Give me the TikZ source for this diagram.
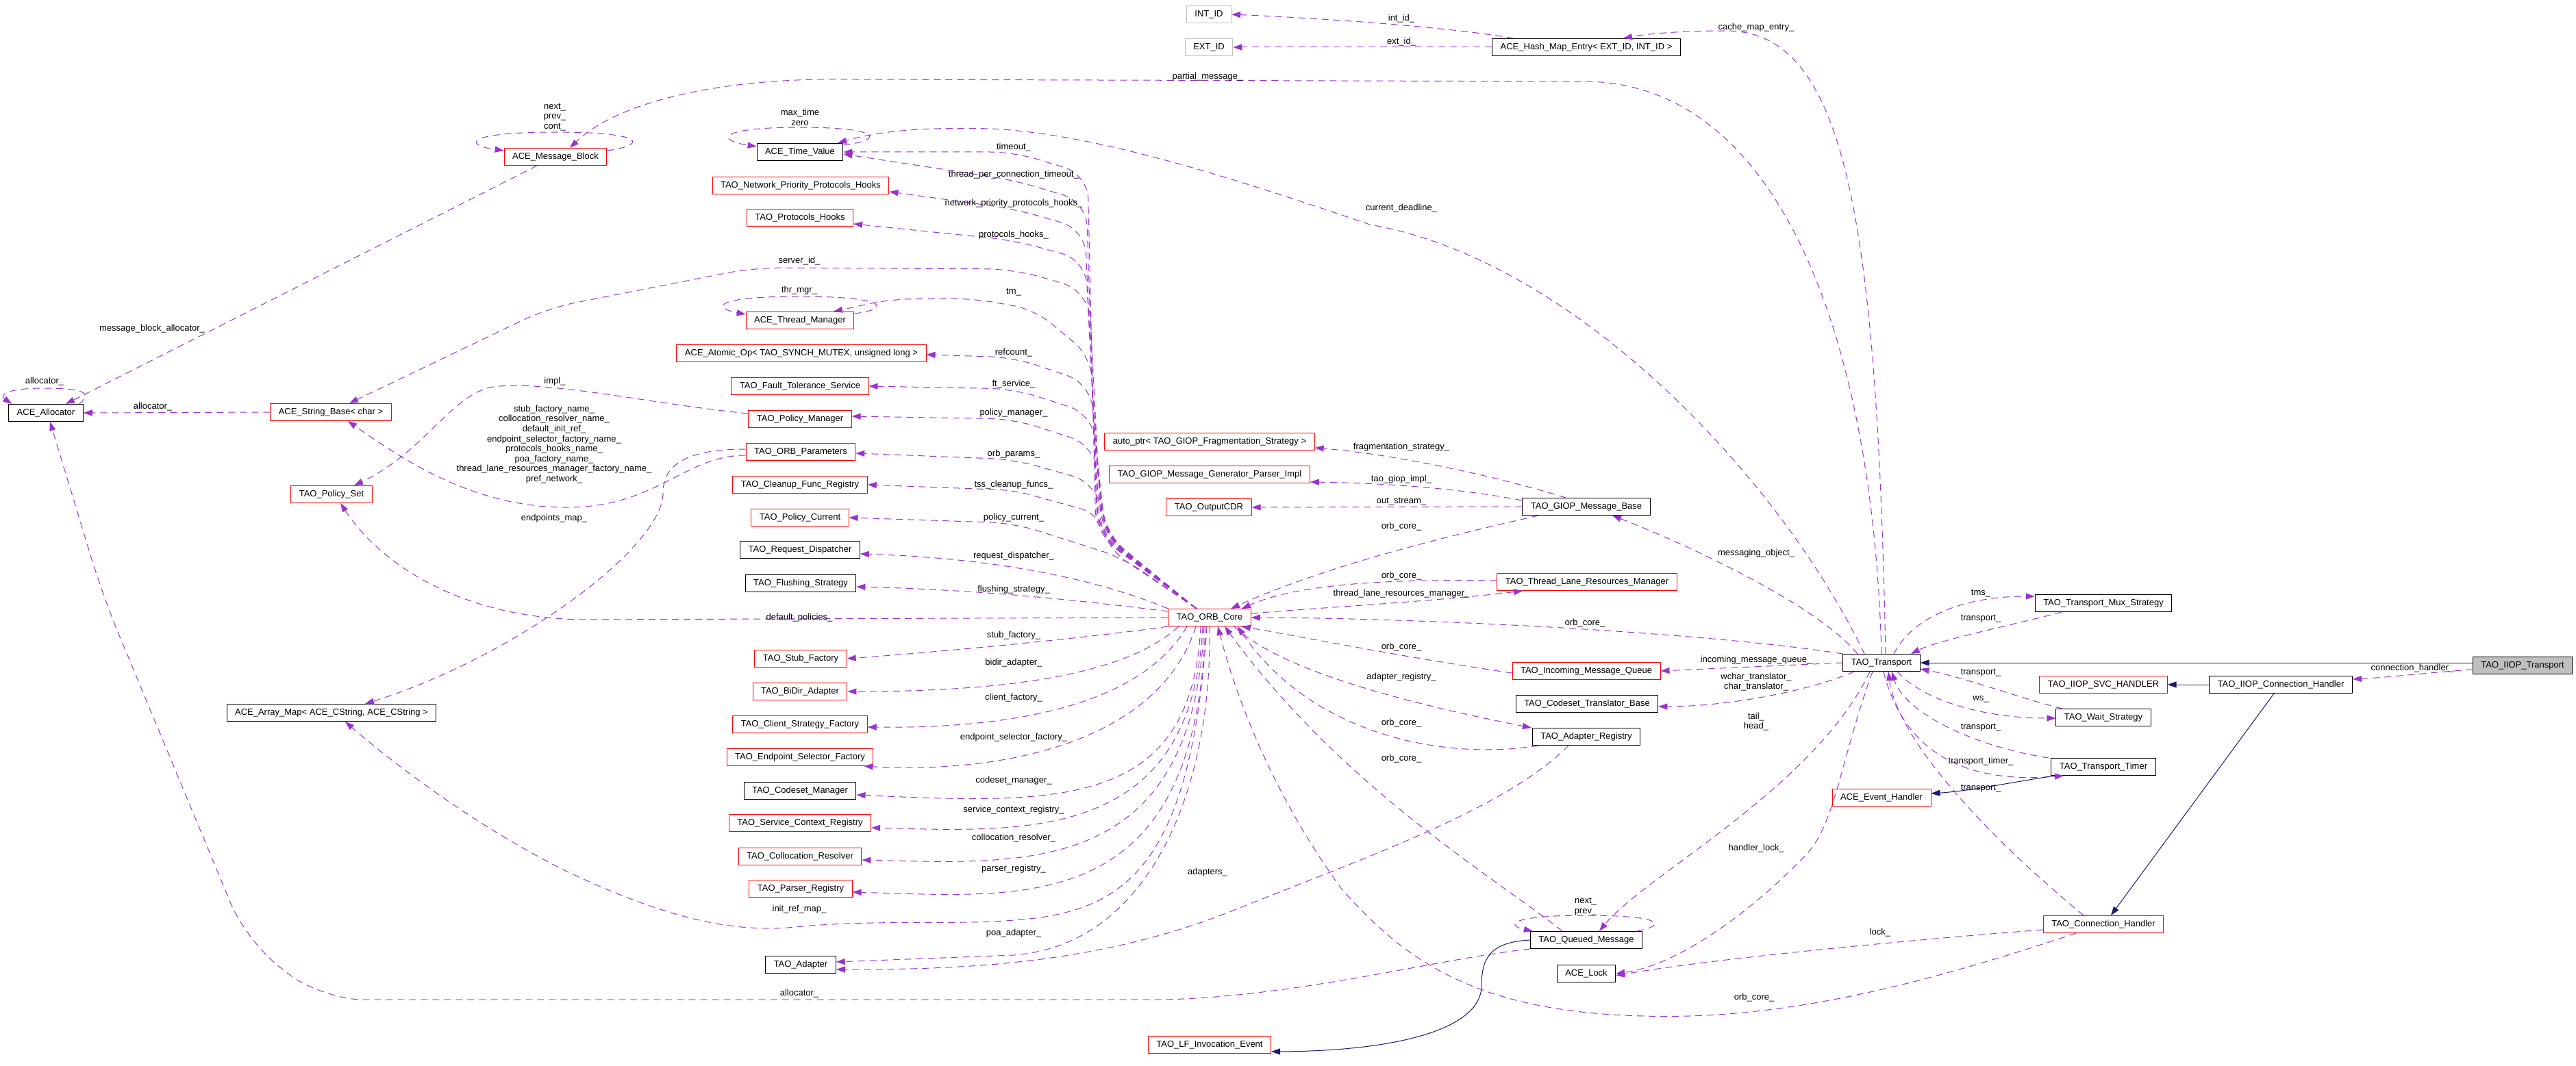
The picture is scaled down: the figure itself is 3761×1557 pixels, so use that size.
\documentclass[tikz,border=0pt]{standalone}
\usepackage{fontspec}
\setmainfont{Liberation Sans}
\usetikzlibrary{arrows.meta}
\definecolor{edgec}{HTML}{9A32CD}
\definecolor{inhc}{HTML}{191970}
\definecolor{greyb}{HTML}{BFBFBF}
\newcommand\dxfont{\fontsize{13}{14.6}\selectfont}
\tikzset{
  box/.style={draw, line width=1pt, font=\dxfont, inner xsep=12pt, inner ysep=0pt, minimum height=25pt, text height=9.4pt, text depth=2.6pt},
  rbox/.style={box, draw=red},
  kbox/.style={box, draw=black},
  gbox/.style={box, draw=greyb},
  selbox/.style={box, draw=black, fill=greyb},
  mem/.style={draw=edgec, line width=1pt, dash pattern=on 10pt off 7pt, -{Triangle[length=13pt,width=9pt]}},
  inh/.style={draw=inhc, line width=1pt, -{Triangle[length=13pt,width=9pt]}},
  lab/.style={font=\dxfont, inner sep=0pt, align=center},
}
\begin{document}
\begin{tikzpicture}[x=1pt,y=-1pt]
\fill[white] (0,0) rectangle (3761,1557);
\useasboundingbox (0,0) rectangle (3761,1557);

% ---------- nodes ----------
\node[kbox] (aal) at (67,603) {ACE\_Allocator};
\node[rbox] (amb) at (811,229) {ACE\_Message\_Block};
\node[rbox] (asb) at (483,602) {ACE\_String\_Base< char >};
\node[rbox] (tps) at (484,722) {TAO\_Policy\_Set};
\node[kbox] (aam) at (484,1041) {ACE\_Array\_Map< ACE\_CString, ACE\_CString >};

\node[kbox] (tv) at (1168,222) {ACE\_Time\_Value};
\node[rbox] (npph) at (1169,271) {TAO\_Network\_Priority\_Protocols\_Hooks};
\node[rbox] (ph) at (1168,318) {TAO\_Protocols\_Hooks};
\node[rbox] (atm) at (1168,468) {ACE\_Thread\_Manager};
\node[rbox] (aao) at (1170,516) {ACE\_Atomic\_Op< TAO\_SYNCH\_MUTEX, unsigned long >};
\node[rbox] (fts) at (1168,564) {TAO\_Fault\_Tolerance\_Service};
\node[rbox] (pm) at (1168,612) {TAO\_Policy\_Manager};
\node[rbox] (orbp) at (1169,660) {TAO\_ORB\_Parameters};
\node[rbox] (cfr) at (1168,708) {TAO\_Cleanup\_Func\_Registry};
\node[rbox] (pc) at (1168,756) {TAO\_Policy\_Current};
\node[kbox] (rd) at (1168,803) {TAO\_Request\_Dispatcher};
\node[kbox] (fs) at (1169,852) {TAO\_Flushing\_Strategy};
\node[rbox] (sf) at (1169,962) {TAO\_Stub\_Factory};
\node[rbox] (ba) at (1168,1010) {TAO\_BiDir\_Adapter};
\node[rbox] (csf) at (1168,1058) {TAO\_Client\_Strategy\_Factory};
\node[rbox] (esf) at (1168,1106) {TAO\_Endpoint\_Selector\_Factory};
\node[kbox] (cm) at (1168,1155) {TAO\_Codeset\_Manager};
\node[rbox] (scr) at (1168,1202) {TAO\_Service\_Context\_Registry};
\node[rbox] (cr) at (1168,1251) {TAO\_Collocation\_Resolver};
\node[rbox] (pr) at (1169,1298) {TAO\_Parser\_Registry};
\node[kbox] (ad) at (1169,1409) {TAO\_Adapter};

\node[gbox] (intid) at (1765,21) {INT\_ID};
\node[gbox] (extid) at (1765,69) {EXT\_ID};
\node[rbox] (apt) at (1766,645) {auto\_ptr< TAO\_GIOP\_Fragmentation\_Strategy >};
\node[rbox] (gmg) at (1766,693) {TAO\_GIOP\_Message\_Generator\_Parser\_Impl};
\node[rbox] (ocdr) at (1765,741) {TAO\_OutputCDR};
\node[rbox] (orb) at (1766,902) {TAO\_ORB\_Core};
\node[rbox] (lfie) at (1766,1526) {TAO\_LF\_Invocation\_Event};

\node[kbox] (hme) at (2316,69) {ACE\_Hash\_Map\_Entry< EXT\_ID, INT\_ID >};
\node[kbox] (gmb) at (2316,740) {TAO\_GIOP\_Message\_Base};
\node[rbox] (tlrm) at (2317,850) {TAO\_Thread\_Lane\_Resources\_Manager};
\node[rbox] (imq) at (2316,980) {TAO\_Incoming\_Message\_Queue};
\node[kbox] (ctb) at (2317,1028) {TAO\_Codeset\_Translator\_Base};
\node[kbox] (areg) at (2316,1076) {TAO\_Adapter\_Registry};
\node[kbox] (qm) at (2316,1373) {TAO\_Queued\_Message};
\node[kbox] (alock) at (2316,1422) {ACE\_Lock};

\node[kbox] (tr) at (2747,968) {TAO\_Transport};
\node[rbox] (aeh) at (2747,1165) {ACE\_Event\_Handler};

\node[kbox] (tms) at (3071,881) {TAO\_Transport\_Mux\_Strategy};
\node[rbox] (svc) at (3071,1000) {TAO\_IIOP\_SVC\_HANDLER};
\node[kbox] (ws) at (3071,1048) {TAO\_Wait\_Strategy};
\node[kbox] (tt) at (3071,1120) {TAO\_Transport\_Timer};
\node[rbox] (ch) at (3071,1350) {TAO\_Connection\_Handler};
\node[kbox] (iiopch) at (3330,1000) {TAO\_IIOP\_Connection\_Handler};
\node[selbox] (iiopt) at (3683,972) {TAO\_IIOP\_Transport};

% ---------- self loops ----------
\draw[mem] ([xshift=-6pt]aal.north east) .. controls (135,575) and (125,567) .. (65,567) .. controls (5,567) and (0,578) .. ([xshift=5pt]aal.north west);
\draw[mem] ([yshift=-4pt]amb.north east) .. controls (945,212) and (945,193) .. (811,193) .. controls (677,193) and (677,212) .. ([yshift=-4pt]amb.north west);
\draw[mem] ([yshift=-3pt]tv.north east) .. controls (1290,205) and (1290,186) .. (1168,186) .. controls (1046,186) and (1046,205) .. ([yshift=-5pt]tv.north west);
\draw[mem] ([yshift=-3pt]atm.north east) .. controls (1300,452) and (1300,433) .. (1168,433) .. controls (1040,433) and (1040,450) .. ([yshift=-4pt]atm.north west);
\draw[mem] ([xshift=-8pt]qm.north east) .. controls (2440,1350) and (2420,1337) .. (2316,1337) .. controls (2200,1337) and (2200,1352) .. ([xshift=4pt]qm.north west);

% ---------- left area ----------
\draw[mem] (asb.west) -- (aal.east);
\draw[mem] ([xshift=-27pt]amb.south) -- ([xshift=29pt]aal.north);
\draw[mem] ([yshift=8pt]pm.west) .. controls (950,590) and (800,555) .. (720,565) .. controls (660,575) and (620,660) .. ([xshift=33pt]tps.north);
\draw[mem] ([yshift=-5pt]orbp.west) .. controls (1000,665) and (960,740) .. (830,741) .. controls (700,742) and (600,680) .. ([xshift=25pt]asb.south);
\draw[mem] ([yshift=4pt]orbp.west) .. controls (1000,656) and (968,680) .. (968,720) .. controls (968,800) and (750,960) .. ([xshift=49pt]aam.north);
\draw[mem] (orb.west) -- (850,905) .. controls (680,902) and (560,830) .. ([xshift=13pt]tps.south);

% ---------- ORB core upper bundle ----------
\draw[mem, rounded corners=35pt] ([xshift=-19pt]orb.north) -- (1600,780) -- (1588,255) -- (1480,222) -- (tv.east);
\draw[mem, rounded corners=35pt] ([xshift=-19pt]orb.north) -- (1602,780) -- (1586,295) -- (1480,263) -- ([yshift=-3pt]tv.east);
\draw[mem, rounded corners=35pt] ([xshift=-19pt]orb.north) -- (1604,780) -- (1584,335) -- (1480,305) -- ([yshift=-9pt]npph.east);
\draw[mem, rounded corners=35pt] ([xshift=-19pt]orb.north) -- (1606,780) -- (1585,380) -- (1480,351) -- ([yshift=-9pt]ph.east);
\draw[mem, rounded corners=40pt] ([xshift=-19pt]orb.north) -- (1608,780) -- (1590,425) -- (1480,393) -- (1100,391) -- (800,450) -- ([xshift=27pt]asb.north);
\draw[mem, rounded corners=30pt] ([xshift=-19pt]orb.north) -- (1610,780) -- (1592,520) -- (1510,452) -- (1420,436) -- (1300,437) -- ([xshift=49pt]atm.north);
\draw[mem, rounded corners=35pt] ([xshift=-19pt]orb.north) -- (1612,780) -- (1592,560) -- (1480,522) -- ([yshift=-2pt]aao.east);
\draw[mem, rounded corners=35pt] ([xshift=-19pt]orb.north) -- (1614,780) -- (1595,605) -- (1480,568) -- (fts.east);
\draw[mem, rounded corners=35pt] ([xshift=-19pt]orb.north) -- (1616,785) -- (1597,650) -- (1480,612) -- ([yshift=4pt]pm.east);
\draw[mem, rounded corners=35pt] ([xshift=-19pt]orb.north) -- (1618,790) -- (1600,705) -- (1480,671) -- ([yshift=-2pt]orbp.east);
\draw[mem, rounded corners=25pt] ([xshift=-19pt]orb.north) -- (1622,805) -- (1603,750) -- (1480,716) -- (cfr.east);
\draw[mem, rounded corners=35pt] ([xshift=-19pt]orb.north) -- (1640,815) -- (1480,764) -- (pc.east);
\draw[mem] (orb.north west) .. controls (1600,845) and (1450,815) .. ([yshift=-6pt]rd.east);
\draw[mem] ([yshift=-4pt]orb.north west) .. controls (1600,880) and (1450,862) .. ([yshift=-5pt]fs.east);

% ---------- ORB core lower bundle ----------
\draw[mem] (orb.south west) .. controls (1600,930) and (1400,950) .. (sf.east);
\draw[mem] ([xshift=-45pt]orb.south) .. controls (1640,990) and (1450,1010) .. (ba.east);
\draw[mem] ([xshift=-33pt]orb.south) .. controls (1660,1040) and (1450,1064) .. ([yshift=-4pt]csf.east);
\draw[mem] ([xshift=-20pt]orb.south) .. controls (1690,1090) and (1450,1130) .. ([xshift=-14pt]esf.south east);
\draw[mem] ([xshift=-13pt]orb.south) .. controls (1740,1180) and (1550,1175) .. ([yshift=-6pt]cm.east);
\draw[mem] ([xshift=-10pt]orb.south) .. controls (1740,1230) and (1500,1215) .. ([yshift=-7pt]scr.east);
\draw[mem] ([xshift=-8pt]orb.south) .. controls (1740,1280) and (1500,1262) .. ([yshift=-5pt]cr.east);
\draw[mem] ([xshift=-6pt]orb.south) .. controls (1745,1340) and (1500,1310) .. ([yshift=-5pt]pr.east);
\draw[mem] ([xshift=-4pt]orb.south) .. controls (1740,1250) and (1650,1320) .. (1520,1340) .. controls (1400,1355) and (1300,1340) .. (1150,1355) .. controls (1050,1362) and (950,1330) .. (830,1274) .. controls (700,1210) and (580,1120) .. ([xshift=20pt]aam.south);
\draw[mem] (orb.south) .. controls (1770,1150) and (1680,1380) .. (1480,1395) -- ([yshift=4pt]ad.east);

% ---------- ORB core right side ----------
\draw[mem] ([xshift=-30pt]gmb.north) .. controls (2200,700) and (2050,665) .. ([yshift=-9pt]apt.east);
\draw[mem] ([yshift=9pt]gmb.west) .. controls (2150,717) and (2050,706) .. ([yshift=-11pt]gmg.east);
\draw[mem] (gmb.west) -- (ocdr.east);
\draw[mem] ([xshift=-70pt]gmb.south) .. controls (2150,775) and (1950,820) .. ([xshift=31pt]orb.north);
\draw[mem] ([yshift=2pt]tlrm.west) .. controls (2050,846) and (1900,850) .. ([xshift=47pt]orb.north);
\draw[mem] ([yshift=6pt]orb.east) .. controls (1920,888) and (2100,878) .. ([xshift=-94pt]tlrm.south);
\draw[mem] (tr.north west) .. controls (2500,925) and (2100,903) .. (orb.east);
\draw[mem] ([yshift=-3pt]imq.west) .. controls (2050,960) and (1900,930) .. ([xshift=-14pt]orb.south east);
\draw[mem] ([xshift=-25pt]orb.south east) .. controls (1880,990) and (2120,1040) .. ([xshift=-80pt]areg.north);
\draw[mem] ([xshift=-70pt]areg.south) .. controls (2120,1110) and (1920,1080) .. ([xshift=-20pt]orb.south east);
\draw[mem] ([xshift=-26pt]areg.south) .. controls (2200,1180) and (2000,1250) .. (1800,1330) .. controls (1600,1410) and (1400,1416) .. ([yshift=-7pt]ad.east);
\draw[mem] ([xshift=-35pt]qm.north) .. controls (2180,1280) and (1960,1150) .. ([xshift=22pt]orb.south);
\draw[mem] (qm.south west) .. controls (2100,1400) and (1900,1455) .. (1700,1460) [rounded corners=60pt] -- (470,1460) -- (360,1375) -- (150,870) -- ([xshift=6pt]aal.south);
\draw[mem] ([xshift=-40pt]ch.south) .. controls (2800,1440) and (2600,1490) .. (2400,1484) .. controls (2150,1478) and (2050,1400) .. (1960,1300) .. controls (1850,1150) and (1800,1000) .. ([xshift=12pt]orb.south);
\draw[inh] (qm.west) .. controls (2175,1376) and (2163,1400) .. (2163,1440) .. controls (2163,1500) and (2050,1535) .. ([yshift=-10pt]lfie.east);

% ---------- Transport ----------
\draw[mem] (tr.north) .. controls (2735,500) and (2600,119) .. (2312,119) -- (1250,116) .. controls (1050,112) and (900,150) .. ([xshift=21pt]amb.north);
\draw[mem] ([xshift=6pt]tr.north) .. controls (2740,300) and (2690,45) .. (2520,45) .. controls (2450,45) and (2400,50) .. ([xshift=54pt]hme.north);
\draw[mem] ([xshift=-25pt]tr.north) .. controls (2600,700) and (2300,380) .. (2000,328) .. controls (1800,260) and (1600,195) .. (1446,188) .. controls (1350,185) and (1280,192) .. ([xshift=55pt]tv.north);
\draw[mem] ([xshift=-35pt]tr.north) .. controls (2650,880) and (2450,790) .. ([xshift=38pt]gmb.south);
\draw[mem] (tr.west) -- (imq.east);
\draw[mem] ([xshift=-40pt]tr.south) .. controls (2640,1010) and (2520,1032) .. ([yshift=-4pt]ctb.east);
\draw[mem] ([xshift=-17pt]tr.south) .. controls (2650,1150) and (2400,1280) .. ([xshift=19pt]qm.north);
\draw[mem] ([xshift=-13pt]tr.south) .. controls (2690,1100) and (2680,1200) .. (2640,1245) .. controls (2560,1330) and (2450,1410) .. (alock.east);
\draw[mem] ([yshift=-8pt]ch.west) .. controls (2800,1372) and (2500,1400) .. ([yshift=-3pt]alock.east);
\draw[mem] ([xshift=18pt]tr.north) .. controls (2790,905) and (2860,871) .. ([yshift=10pt]tms.west);
\draw[mem] ([xshift=-61pt]tms.south) .. controls (2930,915) and (2830,935) .. ([xshift=43pt]tr.north);
\draw[mem] ([xshift=23pt]tr.south) .. controls (2810,1025) and (2900,1049) .. ([yshift=-1pt]ws.west);
\draw[mem] ([xshift=-60pt]ws.north) .. controls (2950,1020) and (2870,990) .. ([yshift=-9pt]tr.east);
\draw[mem] ([xshift=-80pt]tt.north) .. controls (2880,1090) and (2780,1040) .. ([xshift=15pt]tr.south);
\draw[mem] ([xshift=3pt]tr.south) .. controls (2780,1100) and (2870,1145) .. ([xshift=-58pt]tt.south);
\draw[mem] ([xshift=-29pt]ch.north) .. controls (2900,1220) and (2770,1080) .. ([xshift=10pt]tr.south);
\draw[inh] ([xshift=-70pt]tt.south) .. controls (2950,1140) and (2880,1155) .. ([yshift=6pt]aeh.east);

% ---------- IIOP ----------
\draw[inh] ([yshift=4pt]iiopt.west) -- (tr.east);
\draw[mem] ([yshift=-6pt]iiopt.west) .. controls (3550,982) and (3480,990) .. ([yshift=8pt]iiopch.east);
\draw[inh] (iiopch.west) -- (svc.east);
\draw[inh] ([xshift=-10pt]iiopch.south) -- ([xshift=11pt]ch.north);

% ---------- Hash map ----------
\draw[mem] ([xshift=-106pt]hme.north) .. controls (2150,45) and (2000,30) .. (intid.east);
\draw[mem] (hme.west) -- (extid.east);

% ---------- labels ----------
\node[lab] (l01) at (810,171) {next\_\\prev\_\\cont\_};
\node[lab] (l02) at (222,480) {message\_block\_allocator\_};
\node[lab] (l03) at (65,557) {allocator\_};
\node[lab] (l04) at (223,594) {allocator\_};
\node[lab] (l05) at (810,557) {impl\_};
\node[lab] (l06) at (809,649) {stub\_factory\_name\_\\collocation\_resolver\_name\_\\default\_init\_ref\_\\endpoint\_selector\_factory\_name\_\\protocols\_hooks\_name\_\\poa\_factory\_name\_\\thread\_lane\_resources\_manager\_factory\_name\_\\pref\_network\_};
\node[lab] (l07) at (809,757) {endpoints\_map\_};
\node[lab] (l08) at (1168,171.5) {max\_time\\zero};
\node[lab] (l09) at (1167,381) {server\_id\_};
\node[lab] (l10) at (1167,424) {thr\_mgr\_};
\node[lab] (l11) at (1167,902) {default\_policies\_};
\node[lab] (l12) at (1167,1328) {init\_ref\_map\_};
\node[lab] (l13) at (1167,1451) {allocator\_};

\node[lab] (l20) at (1480,215) {timeout\_};
\node[lab] (l21) at (1480,255) {thread\_per\_connection\_timeout\_};
\node[lab] (l22) at (1480,297) {network\_priority\_protocols\_hooks\_};
\node[lab] (l23) at (1480,343) {protocols\_hooks\_};
\node[lab] (l24) at (1480,427) {tm\_};
\node[lab] (l25) at (1480,515) {refcount\_};
\node[lab] (l26) at (1480,561) {ft\_service\_};
\node[lab] (l27) at (1480,603) {policy\_manager\_};
\node[lab] (l28) at (1480,663) {orb\_params\_};
\node[lab] (l29) at (1480,708) {tss\_cleanup\_funcs\_};
\node[lab] (l30) at (1480,756) {policy\_current\_};
\node[lab] (l31) at (1480,812) {request\_dispatcher\_};
\node[lab] (l32) at (1480,861) {flushing\_strategy\_};
\node[lab] (l33) at (1480,928) {stub\_factory\_};
\node[lab] (l34) at (1480,968) {bidir\_adapter\_};
\node[lab] (l35) at (1480,1019) {client\_factory\_};
\node[lab] (l36) at (1480,1077) {endpoint\_selector\_factory\_};
\node[lab] (l37) at (1480,1140) {codeset\_manager\_};
\node[lab] (l38) at (1480,1183) {service\_context\_registry\_};
\node[lab] (l39) at (1480,1224) {collocation\_resolver\_};
\node[lab] (l40) at (1480,1269) {parser\_registry\_};
\node[lab] (l41) at (1480,1363) {poa\_adapter\_};

\node[lab] (l50) at (1763,112) {partial\_message\_};
\node[lab] (l51) at (1763,1274) {adapters\_};
\node[lab] (l52) at (2046,27) {int\_id\_};
\node[lab] (l53) at (2046,61) {ext\_id\_};
\node[lab] (l54) at (2046,304) {current\_deadline\_};
\node[lab] (l55) at (2046,653) {fragmentation\_strategy\_};
\node[lab] (l56) at (2046,700) {tao\_giop\_impl\_};
\node[lab] (l57) at (2046,733) {out\_stream\_};
\node[lab] (l58) at (2046,769) {orb\_core\_};
\node[lab] (l59) at (2046,841) {orb\_core\_};
\node[lab] (l60) at (2046,867) {thread\_lane\_resources\_manager\_};
\node[lab] (l61) at (2046,945) {orb\_core\_};
\node[lab] (l62) at (2046,989) {adapter\_registry\_};
\node[lab] (l63) at (2046,1056) {orb\_core\_};
\node[lab] (l64) at (2046,1108) {orb\_core\_};
\node[lab] (l65) at (2314,910) {orb\_core\_};

\node[lab] (l70) at (2564,40) {cache\_map\_entry\_};
\node[lab] (l71) at (2564,808) {messaging\_object\_};
\node[lab] (l72) at (2564,964) {incoming\_message\_queue\_};
\node[lab] (l73) at (2564,996) {wchar\_translator\_\\char\_translator\_};
\node[lab] (l74) at (2564,1054) {tail\_\\head\_};
\node[lab] (l75) at (2564,1239) {handler\_lock\_};
\node[lab] (l76) at (2561,1457) {orb\_core\_};
\node[lab] (l77) at (2315,1324) {next\_\\prev\_};
\node[lab] (l78) at (2745,1362) {lock\_};

\node[lab] (l80) at (2892,867) {tms\_};
\node[lab] (l81) at (2892,904) {transport\_};
\node[lab] (l82) at (2892,983) {transport\_};
\node[lab] (l83) at (2892,1021) {ws\_};
\node[lab] (l84) at (2892,1063) {transport\_};
\node[lab] (l85) at (2892,1112) {transport\_timer\_};
\node[lab] (l86) at (2892,1152) {transport\_};
\node[lab] (l87) at (3522,976) {connection\_handler\_};
\end{tikzpicture}
\end{document}
